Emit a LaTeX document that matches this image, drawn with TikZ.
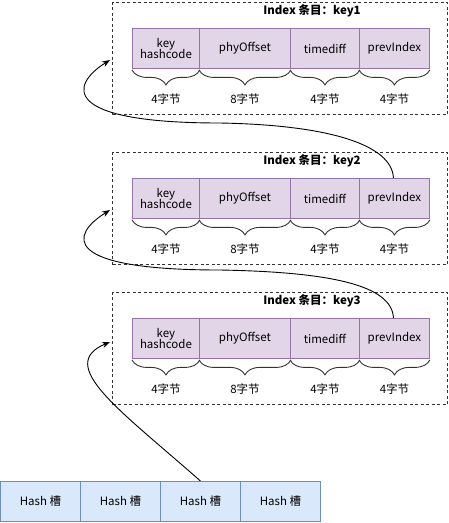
\documentclass[tikz,border=0pt]{standalone}
\usepackage{fontspec}
\setmainfont{Noto Sans CJK SC}
\usetikzlibrary{decorations.pathreplacing,arrows.meta}
\definecolor{cellfill}{HTML}{E1D5E7}
\definecolor{celldraw}{HTML}{9673A6}
\definecolor{hashfill}{HTML}{DAE8FC}
\definecolor{hashdraw}{HTML}{6C8EBF}
\definecolor{grpdraw}{HTML}{333333}
\tikzset{
  cell/.style={draw=celldraw, fill=cellfill, line width=0.9pt, minimum height=40pt,
    anchor=north west, inner sep=0pt, align=center, font=\fontsize{11.5}{13}\selectfont},
  hashcell/.style={draw=hashdraw, fill=hashfill, line width=0.9pt, minimum height=40pt,
    minimum width=80pt, anchor=north west, inner sep=0pt, font=\fontsize{11.5}{13}\selectfont},
  grp/.style={draw=grpdraw, line width=1pt, dash pattern=on 3pt off 2.5pt},
  grptitle/.style={font=\bfseries\fontsize{11.5}{13}\selectfont},
  bracelabel/.style={font=\fontsize{11.5}{13}\selectfont},
  bracepath/.style={draw=black!80, line width=0.9pt, decorate,
    decoration={brace, amplitude=15pt}},
  link/.style={draw=black, line width=0.9pt, -{Stealth[length=8pt,width=6pt]}}
}
\begin{document}
\begin{tikzpicture}[x=1pt,y=-1pt]
\useasboundingbox (0,0) rectangle (449,523);
\foreach \g/\t/\k in {1/28/key1, 2/178/key2, 3/318/key3}{
  \node[grp, minimum width=335pt, minimum height=112pt, anchor=north west, inner sep=0pt] (box\g) at (112,\t-26) {};
  \node[grptitle] (title\g) at (312,\t-17) {Index 条目：\k};
  \node[cell, minimum width=67pt] (c\g-1) at (132,\t) {key\\[-2pt]hashcode};
  \node[cell, minimum width=91pt] (c\g-2) at (199,\t) {phyOffset};
  \node[cell, minimum width=69pt] (c\g-3) at (290,\t) {timediff};
  \node[cell, minimum width=70pt] (c\g-4) at (359,\t) {prevIndex};
  \foreach \i/\lab in {1/4字节, 2/8字节, 3/4字节, 4/4字节}{
    \draw[bracepath] ([yshift=-1pt]c\g-\i.south east) -- ([yshift=-1pt]c\g-\i.south west);
    \node[bracelabel] (lab\g-\i) at ([yshift=-30pt]c\g-\i.south) {\lab};
  }
}
\node[hashcell] (h1) at (0,481) {Hash 槽};
\node[hashcell] (h2) at (80,481) {Hash 槽};
\node[hashcell] (h3) at (160,481) {Hash 槽};
\node[hashcell] (h4) at (240,481) {Hash 槽};
\coordinate (t1) at (110,60);
\coordinate (t2) at (110,210);
\coordinate (t3) at (110,342);
\draw[link] (h3.north) .. controls (120,410) and (55,365) .. (t3);
\draw[link] ([xshift=-1pt]c3-4.north) .. controls (392,285) and (330,272) .. (220,270)
   .. controls (60,270) and (70,235) .. (t2);
\draw[link] ([xshift=-1pt]c2-4.north) .. controls (392,145) and (330,125) .. (220,123)
   .. controls (60,123) and (70,85) .. (t1);
\end{tikzpicture}
\end{document}
